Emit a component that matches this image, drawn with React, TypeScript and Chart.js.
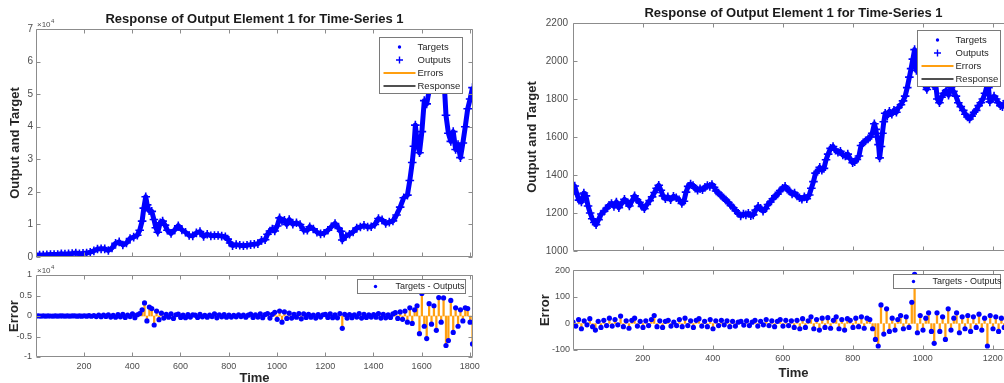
import React, { useEffect, useRef } from "react";
import { Chart, registerables } from "chart.js";

Chart.register(...registerables);

const FONT = '"Liberation Sans", Arial, Helvetica, sans-serif';
const BLUE = "#0000ff";
const ORANGE = "#ff9f10";
const RESPONSE_GRAY = "#505050";
const AXIS_GRAY = "#8c8c8c";
const TICK_TEXT = "#4d4d4d";
const LABEL_TEXT = "#262626";

const chartTitle = "Response of Output Element 1 for Time-Series 1";
const mainLegendLabels = ["Targets", "Outputs", "Errors", "Response"];
const errorLegendLabel = "Targets - Outputs";
const xAxisTitle = "Time";
const mainYTitle = "Output and Target";
const errorYTitle = "Error";

// ---------- Left panel (values in units, labels shown x10^4) ----------
const leftSeries: [number, number][] = [
  [1, 610], [16, 612], [31, 630], [46, 700], [61, 740], [76, 765], [91, 790], [106, 1000], [121, 880], [136, 1000],
  [151, 1050], [166, 1250], [181, 1020], [196, 1100], [211, 1200], [226, 1480], [241, 1880], [256, 2450], [271, 2500], [286, 2500],
  [301, 2000], [316, 2750], [331, 4200], [346, 4650], [361, 3700], [376, 4300], [391, 5700], [406, 6100], [421, 6700], [431, 8200],
  [441, 11000], [448, 15000], [456, 18500], [462, 16000], [470, 14200], [481, 14000], [490, 11500], [498, 9000], [506, 7600], [516, 10500],
  [526, 11000], [536, 9800], [546, 8200], [561, 7200], [576, 8300], [591, 9600], [606, 8300], [621, 7600], [636, 6600], [651, 6500],
  [666, 7400], [681, 7800], [696, 6300], [711, 7000], [726, 6500], [741, 6600], [756, 6600], [771, 6400], [786, 6200], [796, 5500],
  [806, 4300], [816, 3500], [831, 3800], [846, 3600], [861, 3450], [876, 3600], [891, 3800], [906, 3900], [921, 4100], [936, 5100],
  [951, 5300], [961, 7000], [971, 8000], [981, 8600], [991, 8000], [1001, 9500], [1011, 12000], [1021, 11000], [1031, 11300], [1041, 10000],
  [1051, 11500], [1066, 10100], [1081, 10500], [1096, 10000], [1111, 8200], [1126, 8200], [1136, 9300], [1151, 8600], [1166, 7600], [1181, 7100],
  [1196, 7300], [1211, 8200], [1226, 9300], [1241, 10300], [1256, 8800], [1266, 7900], [1271, 5200], [1286, 6400], [1301, 7000], [1316, 7700],
  [1331, 8900], [1346, 9200], [1361, 9700], [1376, 9200], [1391, 9300], [1406, 10000], [1421, 11800], [1436, 11400], [1451, 10300], [1466, 10700],
  [1481, 11100], [1496, 12900], [1511, 15300], [1526, 18200], [1541, 19000], [1551, 23500], [1561, 29000], [1568, 34000], [1574, 40500], [1581, 35500],
  [1591, 32000], [1601, 38500], [1611, 48000], [1621, 47000], [1631, 51000], [1641, 58000], [1651, 56000], [1661, 57500], [1671, 61000], [1681, 55000],
  [1691, 57000], [1701, 43500], [1711, 38000], [1721, 35500], [1731, 38500], [1741, 33000], [1751, 34500], [1761, 30500], [1771, 35000], [1781, 40000],
  [1791, 45500], [1801, 48500], [1811, 52000],
];
const leftErrorStart = 1;
const leftErrorStep = 10;
const leftErrors = [
  0, 20, -15, 10, -20, 15, 5, -10, 20, -25,
  10, 30, -20, 15, -30, 25, 40, -35, 20, -40,
  60, -50, 80, -60, 120, -150, 200, -180, 250, -100,
  300, -250, 150, -300, 350, -200, 400, -350, 250, -150,
  500, -400, 300, 600, 1500, 3200, -1200, 2200, 1800, -2200,
  1200, -900, 700, -500, 400, -300, 500, -600, 300, 450,
  -350, 250, -400, 350, -250, 300, 200, -350, 400, -200,
  150, -300, 250, -150, 500, -450, 300, -200, 350, -300,
  200, -250, 150, -200, 300, -150, 250, -300, 200, 450,
  -350, 300, -250, 500, -400, 350, 600, -500, 400, 900,
  -800, 1200, -1500, 1000, -600, 700, -500, 400, -300, 600,
  -700, 500, -350, 400, -300, 250, -500, 350, -250, 300,
  400, -350, 500, -400, 300, -450, 600, -3000, 400, -500,
  350, -400, 300, -250, 600, -500, 400, -350, 300, -250,
  350, -300, 600, -500, 400, -450, 300, -350, 500, 800,
  -600, 1000, -800, 1200, -1500, 2000, -1800, 1500, 2500, -4300,
  5500, -2500, -5500, 3000, -2000, 2500, -3500, 4500, -1500, 4400,
  -7200, -6000, 3800, -4000, 2000, -2500, 1500, -1200, 2000, 1800,
  -1500, -6800,
];
const leftXRange = [1, 1813];
const leftXTicks = [200, 400, 600, 800, 1000, 1200, 1400, 1600, 1800];
const leftYTicks = [0, 10000, 20000, 30000, 40000, 50000, 60000, 70000];
const leftErrTicks = [-10000, -5000, 0, 5000, 10000];
const leftLabelDivisor = 10000;
const leftExponent = "4";

// ---------- Right panel ----------
const rightSeries: [number, number][] = [
  [1, 1320], [6, 1342], [12, 1300], [18, 1268], [25, 1258], [32, 1305], [38, 1290], [44, 1237], [50, 1200], [56, 1170],
  [62, 1150], [67, 1138], [74, 1165], [82, 1195], [90, 1210], [97, 1225], [104, 1240], [111, 1250], [118, 1235], [125, 1258],
  [132, 1228], [140, 1250], [148, 1272], [155, 1255], [162, 1237], [170, 1265], [177, 1290], [184, 1270], [191, 1256], [198, 1235],
  [205, 1222], [212, 1245], [220, 1265], [227, 1285], [234, 1308], [240, 1330], [246, 1346], [252, 1320], [258, 1290], [265, 1275],
  [272, 1285], [280, 1270], [288, 1288], [296, 1280], [304, 1270], [312, 1250], [318, 1262], [324, 1310], [330, 1340], [337, 1352],
  [344, 1345], [350, 1330], [357, 1320], [364, 1328], [371, 1322], [378, 1335], [385, 1345], [392, 1340], [398, 1350], [404, 1335],
  [410, 1316], [417, 1305], [424, 1292], [431, 1280], [438, 1268], [445, 1255], [452, 1240], [459, 1228], [466, 1212], [473, 1198],
  [480, 1185], [488, 1195], [495, 1190], [502, 1198], [509, 1186], [516, 1190], [523, 1215], [530, 1235], [537, 1225], [544, 1210],
  [551, 1222], [558, 1245], [565, 1258], [572, 1275], [579, 1290], [586, 1300], [593, 1318], [600, 1330], [607, 1340], [613, 1325],
  [620, 1315], [627, 1300], [634, 1305], [641, 1290], [648, 1280], [655, 1272], [662, 1285], [669, 1275], [676, 1295], [682, 1330],
  [688, 1365], [694, 1410], [700, 1420], [706, 1440], [712, 1425], [718, 1435], [724, 1480], [730, 1510], [737, 1540], [744, 1550],
  [751, 1530], [758, 1520], [765, 1525], [772, 1505], [779, 1500], [786, 1510], [793, 1485], [800, 1465], [806, 1470], [812, 1482],
  [818, 1500], [824, 1555], [830, 1570], [837, 1580], [844, 1590], [850, 1600], [856, 1620], [862, 1670], [866, 1640], [870, 1600],
  [874, 1560], [877, 1490], [881, 1550], [885, 1620], [889, 1680], [893, 1725], [899, 1710], [905, 1735], [912, 1720], [918, 1740],
  [925, 1730], [931, 1755], [938, 1770], [944, 1790], [950, 1815], [956, 1860], [962, 1915], [967, 1960], [972, 2010], [977, 2060],
  [982, 1950], [988, 1960], [994, 1940], [1000, 1900], [1006, 1870], [1012, 1850], [1018, 1880], [1024, 1900], [1030, 1870], [1036, 1900],
  [1042, 1800], [1048, 1780], [1054, 1810], [1060, 1830], [1067, 1845], [1074, 1820], [1081, 1860], [1088, 1840], [1095, 1815], [1102, 1780],
  [1109, 1760], [1116, 1740], [1122, 1720], [1128, 1705], [1134, 1695], [1140, 1710], [1147, 1730], [1153, 1740], [1160, 1765], [1166, 1780],
  [1172, 1800], [1178, 1830], [1184, 1870], [1188, 1860], [1192, 1785], [1198, 1800], [1204, 1815], [1210, 1800], [1216, 1780], [1222, 1765],
  [1228, 1760], [1234, 1775], [1240, 1790], [1246, 1780], [1252, 1770], [1258, 1785],
];
const rightErrorStart = 1;
const rightErrorStep = 8;
const rightErrors = [
  5, -10, 15, -20, 10, -5, 18, -12, -25, 8,
  -15, 12, -8, 20, -10, 15, -5, 28, -12, 10,
  -18, 12, 20, -10, 8, -15, 10, -8, 15, 30,
  -12, 10, -15, 8, 12, -10, 5, -8, 15, -12,
  20, -8, 10, -15, 12, 18, -10, 8, -12, 15,
  -20, 10, -8, 12, -5, 10, -12, 8, -10, 5,
  8, -6, 10, -8, 5, 12, -10, 8, -5, 15,
  -8, 10, -12, 8, 15, -10, 12, -8, 10, -15,
  12, -20, 18, -15, 10, 25, -20, 15, -25, 20,
  -15, 22, -18, 12, 25, -20, 15, -25, 18, 12,
  -15, 20, -12, 25, -18, 20, 15, -20, -60, -85,
  70, -40, 55, -30, 20, -25, 15, 30, -20, 25,
  -15, 80, 185, -35, 30, -25, 20, 40, -30, -75,
  40, -30, 25, -60, 55, -25, 20, 40, -35, 25,
  -20, 30, -30, 25, -15, 35, -25, 20, -85, 30,
  -20, 25, -30, 20, -15, 25, -20, 15,
];
const rightXRange = [1, 1261];
const rightXTicks = [200, 400, 600, 800, 1000, 1200];
const rightYTicks = [1000, 1200, 1400, 1600, 1800, 2000, 2200];
const rightErrTicks = [-100, 0, 100, 200];

// ---------- plugin: MATLAB-like box, inward ticks, exponent, legend ----------
const matlabAxes = {
  id: "matlabAxes",
  afterDatasetsDraw(chart: any, _args: any, opts: any) {
    const { ctx, chartArea: a } = chart;
    const xs = chart.scales.x;
    const ys = chart.scales.y;
    const L = Math.round(a.left) + 0.5;
    const R = Math.round(a.right) - 0.5;
    const T = Math.round(a.top) + 0.5;
    const B = Math.round(a.bottom) - 0.5;
    ctx.save();
    ctx.strokeStyle = AXIS_GRAY;
    ctx.lineWidth = 1;
    ctx.beginPath();
    ctx.rect(L, T, R - L, B - T);
    const tl = 4;
    xs.ticks.forEach((t: any) => {
      const p = Math.round(xs.getPixelForValue(t.value)) + 0.5;
      ctx.moveTo(p, B);
      ctx.lineTo(p, B - tl);
      ctx.moveTo(p, T);
      ctx.lineTo(p, T + tl);
    });
    ys.ticks.forEach((t: any) => {
      const p = Math.round(ys.getPixelForValue(t.value)) + 0.5;
      ctx.moveTo(L, p);
      ctx.lineTo(L + tl, p);
      ctx.moveTo(R, p);
      ctx.lineTo(R - tl, p);
    });
    ctx.stroke();

    if (opts.exponent) {
      ctx.fillStyle = TICK_TEXT;
      ctx.textBaseline = "alphabetic";
      ctx.textAlign = "left";
      ctx.font = `8px ${FONT}`;
      const bx = a.left + 1;
      const by = a.top - 2;
      ctx.fillText("\u00d710", bx, by);
      const w = ctx.measureText("\u00d710").width;
      ctx.font = `6px ${FONT}`;
      ctx.fillText(opts.exponent, bx + w + 0.5, by - 4);
    }

    const lg = opts.legend;
    if (lg) {
      const bx = Math.round(a.right - lg.right - lg.width) + 0.5;
      const by = Math.round(a.top + lg.top) + 0.5;
      ctx.fillStyle = "#ffffff";
      ctx.fillRect(bx, by, lg.width, lg.height);
      ctx.strokeStyle = "#7a7a7a";
      ctx.lineWidth = 1;
      ctx.strokeRect(bx, by, lg.width, lg.height);
      ctx.font = `${lg.fontSize}px ${FONT}`;
      ctx.textBaseline = "middle";
      ctx.textAlign = "left";
      lg.items.forEach((it: any, i: number) => {
        const y = by + lg.firstRow + i * lg.rowGap;
        const mx = bx + lg.markerX;
        if (it.kind === "dot") {
          ctx.fillStyle = BLUE;
          ctx.beginPath();
          ctx.arc(mx, y, 1.7, 0, Math.PI * 2);
          ctx.fill();
        } else if (it.kind === "cross") {
          ctx.strokeStyle = BLUE;
          ctx.lineWidth = 1.4;
          ctx.beginPath();
          ctx.moveTo(mx - 3.5, y);
          ctx.lineTo(mx + 3.5, y);
          ctx.moveTo(mx, y - 3.5);
          ctx.lineTo(mx, y + 3.5);
          ctx.stroke();
        } else {
          ctx.strokeStyle = it.color;
          ctx.lineWidth = 2;
          ctx.beginPath();
          ctx.moveTo(bx + 4, y);
          ctx.lineTo(bx + 36, y);
          ctx.stroke();
        }
        ctx.fillStyle = LABEL_TEXT;
        ctx.fillText(it.label, bx + lg.textX, y);
      });
    }
    ctx.restore();
  },
};

function mainDatasets(series: [number, number][]) {
  const pts = series.map(([x, y]) => ({ x, y }));
  return [
    {
      type: "line",
      label: mainLegendLabels[0],
      data: pts,
      showLine: false,
      pointStyle: "circle",
      pointRadius: 1.6,
      pointBackgroundColor: BLUE,
      pointBorderWidth: 0,
    },
    {
      type: "line",
      label: mainLegendLabels[1],
      data: pts,
      showLine: true,
      borderColor: BLUE,
      borderWidth: 5,
      borderJoinStyle: "round",
      tension: 0,
      pointStyle: "cross",
      pointRadius: 4.3,
      pointBorderColor: BLUE,
      pointBorderWidth: 1.6,
    },
    {
      type: "line",
      label: mainLegendLabels[3],
      data: pts,
      borderColor: RESPONSE_GRAY,
      borderWidth: 1,
      pointRadius: 0,
    },
  ];
}

function errorDatasets(values: number[], start: number, step: number) {
  const pts = values.map((v, i) => ({ x: start + i * step, y: v }));
  return [
    {
      type: "line",
      label: errorLegendLabel,
      data: pts,
      showLine: false,
      pointStyle: "circle",
      pointRadius: 2.6,
      pointBackgroundColor: BLUE,
      pointBorderWidth: 0,
    },
    {
      type: "bar",
      label: mainLegendLabels[2],
      data: pts,
      backgroundColor: ORANGE,
      borderWidth: 0,
      barThickness: 1.6,
    },
  ];
}

const mainLegendItems = [
  { kind: "dot", label: mainLegendLabels[0] },
  { kind: "cross", label: mainLegendLabels[1] },
  { kind: "line", color: ORANGE, label: mainLegendLabels[2] },
  { kind: "line", color: RESPONSE_GRAY, label: mainLegendLabels[3] },
];
const errLegendItems = [{ kind: "dot", label: errorLegendLabel }];

function makeConfig(p: any) {
  return {
    type: "line",
    data: { datasets: p.datasets },
    options: {
      animation: false,
      responsive: false,
      maintainAspectRatio: false,
      events: [],
      layout: { padding: p.padding },
      plugins: {
        legend: { display: false },
        tooltip: { enabled: false },
        title: p.title
          ? {
              display: true,
              text: p.title,
              fullSize: false,
              color: "#1a1a1a",
              font: { family: FONT, size: 13, weight: "bold", lineHeight: 1.2 },
              padding: p.titlePadding,
            }
          : { display: false },
        matlabAxes: { exponent: p.exponent, legend: p.legend },
      },
      scales: {
        x: {
          type: "linear",
          min: p.xRange[0],
          max: p.xRange[1],
          offset: false,
          grid: { display: false, drawTicks: false },
          border: { display: false },
          ticks: {
            display: p.showXLabels,
            font: { family: FONT, size: 9 },
            color: TICK_TEXT,
            padding: p.xTickPad || 0,
            maxRotation: 0,
            autoSkip: false,
            callback: (v: number) => String(v),
          },
          title: p.xTitle
            ? {
                display: true,
                text: p.xTitle,
                color: LABEL_TEXT,
                font: { family: FONT, size: 13, weight: "bold", lineHeight: 1.2 },
                padding: { top: 0, bottom: p.xTitlePad },
              }
            : { display: false },
          afterBuildTicks: (s: any) => {
            s.ticks = p.xTicks.map((v: number) => ({ value: v }));
          },
          afterFit: (s: any) => {
            s.height = p.xHeight;
          },
        },
        y: {
          type: "linear",
          min: p.yTicks[0],
          max: p.yTicks[p.yTicks.length - 1],
          grid: { display: false, drawTicks: false },
          border: { display: false },
          ticks: {
            font: { family: FONT, size: p.yTickSize },
            color: TICK_TEXT,
            padding: p.yTickPad,
            autoSkip: false,
            callback: (v: number) => String(v / p.yDivisor),
          },
          title: {
            display: true,
            text: p.yTitle,
            color: LABEL_TEXT,
            font: { family: FONT, size: 13, weight: "bold", lineHeight: 1.2 },
            padding: { top: p.yTitlePad, bottom: 0 },
          },
          afterBuildTicks: (s: any) => {
            s.ticks = p.yTicks.map((v: number) => ({ value: v }));
          },
          afterFit: (s: any) => {
            s.width = p.yWidth;
          },
        },
      },
    },
    plugins: [matlabAxes],
  };
}

function ChartCanvas(props: { left: number; top: number; width: number; height: number; make: () => any }) {
  const ref = useRef<HTMLCanvasElement | null>(null);
  useEffect(() => {
    const chart = new Chart(ref.current as HTMLCanvasElement, props.make());
    return () => chart.destroy();
  }, []);
  return (
    <canvas
      ref={ref}
      width={props.width}
      height={props.height}
      style={{ position: "absolute", left: props.left, top: props.top, width: props.width, height: props.height }}
    />
  );
}

const leftMain = () =>
  makeConfig({
    datasets: mainDatasets(leftSeries),
    xRange: leftXRange,
    xTicks: leftXTicks,
    showXLabels: false,
    xHeight: 13,
    yTicks: leftYTicks,
    yDivisor: leftLabelDivisor,
    yTickSize: 10,
    yTickPad: 3,
    yWidth: 36,
    yTitle: mainYTitle,
    yTitlePad: 7.2,
    title: chartTitle,
    titlePadding: { top: 11.2, bottom: 2.2 },
    padding: { top: 0, left: 0, right: 17, bottom: 0 },
    exponent: leftExponent,
    legend: { items: mainLegendItems, right: 11, top: 8, width: 83, height: 56, firstRow: 9.5, rowGap: 13, markerX: 20, textX: 38, fontSize: 9.5 },
  });

const leftErr = () =>
  makeConfig({
    datasets: errorDatasets(leftErrors, leftErrorStart, leftErrorStep),
    xRange: leftXRange,
    xTicks: leftXTicks,
    showXLabels: true,
    xTickPad: 4.6,
    xHeight: 35,
    xTitle: xAxisTitle,
    xTitlePad: 6.2,
    yTicks: leftErrTicks,
    yDivisor: leftLabelDivisor,
    yTickSize: 9,
    yTickPad: 4,
    yWidth: 36,
    yTitle: errorYTitle,
    yTitlePad: 6.7,
    padding: { top: 13, left: 0, right: 17, bottom: 0 },
    exponent: leftExponent,
    legend: { items: errLegendItems, right: 8, top: 4, width: 108, height: 14, firstRow: 7, rowGap: 13, markerX: 18, textX: 38, fontSize: 9 },
  });

const rightMain = () =>
  makeConfig({
    datasets: mainDatasets(rightSeries),
    xRange: rightXRange,
    xTicks: rightXTicks,
    showXLabels: false,
    xHeight: 10,
    yTicks: rightYTicks,
    yDivisor: 1,
    yTickSize: 10,
    yTickPad: 5,
    yWidth: 73,
    yTitle: mainYTitle,
    yTitlePad: 24.2,
    title: chartTitle,
    titlePadding: { top: 5.2, bottom: 2.2 },
    padding: { top: 0, left: 0, right: 16, bottom: 0 },
    legend: { items: mainLegendItems, right: 14, top: 7, width: 83, height: 56, firstRow: 9.5, rowGap: 13, markerX: 20, textX: 38, fontSize: 9.5 },
  });

const rightErr = () =>
  makeConfig({
    datasets: errorDatasets(rightErrors, rightErrorStart, rightErrorStep),
    xRange: rightXRange,
    xTicks: rightXTicks,
    showXLabels: true,
    xTickPad: 3.6,
    xHeight: 42,
    xTitle: xAxisTitle,
    xTitlePad: 11.2,
    yTicks: rightErrTicks,
    yDivisor: 1,
    yTickSize: 9,
    yTickPad: 3,
    yWidth: 73,
    yTitle: errorYTitle,
    yTitlePad: 37.2,
    padding: { top: 8, left: 0, right: 16, bottom: 0 },
    legend: { items: errLegendItems, right: 14, top: 4, width: 107, height: 14, firstRow: 7, rowGap: 13, markerX: 20, textX: 39, fontSize: 9 },
  });

export default function App() {
  return (
    <div
      style={{
        position: "fixed",
        left: 0,
        top: 0,
        width: 1004,
        height: 383,
        overflow: "hidden",
        background: "#ffffff",
      }}
    >
      <ChartCanvas left={0} top={0} width={490} height={270} make={leftMain} />
      <ChartCanvas left={0} top={262} width={490} height={130} make={leftErr} />
      <ChartCanvas left={500} top={0} width={530} height={262} make={rightMain} />
      <ChartCanvas left={500} top={262} width={530} height={130} make={rightErr} />
    </div>
  );
}
